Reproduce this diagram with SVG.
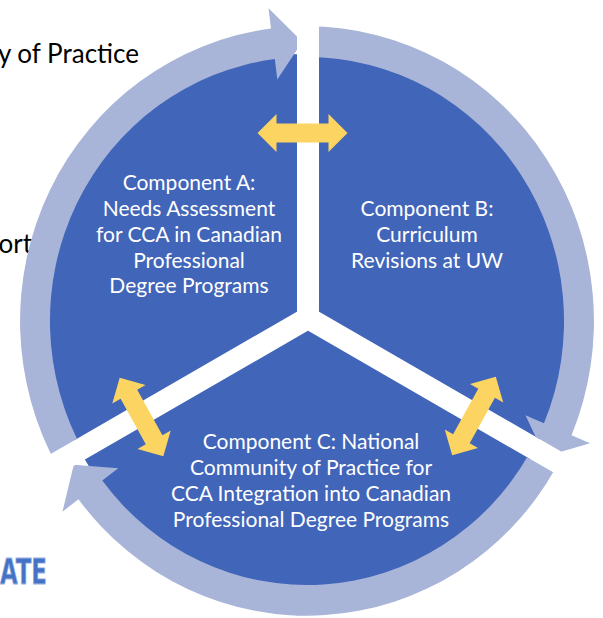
<svg xmlns="http://www.w3.org/2000/svg" width="603" height="618" viewBox="0 0 603 618">
<style>
.slice{fill:#4165B9}
.ring{fill:#A8B4D8}
.link{fill:#FBD462}
.strip{stroke:#fff;stroke-width:22;fill:none}
.lbl{font-family:Lato,"Open Sans","DejaVu Sans",sans-serif;font-size:21px;fill:#fff;text-anchor:middle}
.side{font-family:Lato,"Open Sans","DejaVu Sans",sans-serif;font-size:26px;fill:#000;text-anchor:end}
.logo{font-family:"DejaVu Sans Condensed","DejaVu Sans",sans-serif;font-weight:bold;font-size:35px;fill:#4472C4;stroke:#9DB2E4;stroke-width:0.8}
</style>
<defs>
<path id="ringArrow" d="M -248.5 143.5 A 287 287 0 0 1 -36.0 -284.7 L -38.5 -304.6 L -4.7 -272.0 L -29.7 -235.1 L -32.2 -255.0 A 257 257 0 0 0 -222.6 128.5 Z"/>
<path id="dbl" d="M-45,0 L-26,-19 L-26,-9.5 L26,-9.5 L26,-19 L45,0 L26,19 L26,9.5 L-26,9.5 L-26,19 Z"/>
<mask id="gapMask" maskUnits="userSpaceOnUse" x="0" y="0" width="603" height="618">
<rect width="603" height="618" fill="#fff"/>
<path d="M308 318 V-20 M308 318 L-40 519 M308 318 L656 519" stroke="#000" stroke-width="22" fill="none"/>
<circle cx="308" cy="318" r="11" fill="#000"/>
</mask>
</defs>

<text class="side" x="139" y="63">y of Practice</text>
<text class="side" x="32" y="253">ort</text>
<text class="logo" x="0" y="584" textLength="47" lengthAdjust="spacingAndGlyphs">ATE</text>

<g id="nodeA">
<path class="slice" transform="translate(307 321) scale(1 1.027)" d="M0 0 L-225.2 130 A260 260 0 0 1 0 -260 Z"/>
<text class="lbl" x="189" y="190">Component A:</text>
<text class="lbl" x="189" y="216">Needs Assessment</text>
<text class="lbl" x="189" y="242">for CCA in Canadian</text>
<text class="lbl" x="189" y="268">Professional</text>
<text class="lbl" x="189" y="293">Degree Programs</text>
</g>
<g id="nodeB">
<path class="slice" transform="translate(307 321) scale(1 1.027)" d="M0 0 L0 -260 A260 260 0 0 1 225.2 130 Z"/>
<text class="lbl" x="427" y="216">Component B:</text>
<text class="lbl" x="427" y="242">Curriculum</text>
<text class="lbl" x="427" y="268">Revisions at UW</text>
</g>
<g id="nodeC">
<path class="slice" transform="translate(307 321) scale(1 1.027)" d="M0 0 L225.2 130 A260 260 0 0 1 -225.2 130 Z"/>
<text class="lbl" x="311" y="449">Component C: National</text>
<text class="lbl" x="311" y="475">Community of Practice for</text>
<text class="lbl" x="311" y="501">CCA Integration into Canadian</text>
<text class="lbl" x="311" y="527">Professional Degree Programs</text>
</g>

<g id="dividers">
<path class="strip" d="M308 318 V-20 M308 318 L-40 519 M308 318 L656 519"/>
<circle cx="308" cy="318" r="11" fill="#fff"/>
</g>

<g id="connectors">
<g mask="url(#gapMask)">
<g transform="translate(307 321) scale(1 1.027)">
<use href="#ringArrow" class="ring"/>
<use href="#ringArrow" class="ring" transform="rotate(120)"/>
<use href="#ringArrow" class="ring" transform="rotate(240)"/>
</g>
</g>
<use href="#dbl" class="link" transform="translate(302.5 133)"/>
<use href="#dbl" class="link" transform="translate(141.5 417) rotate(61)"/>
<use href="#dbl" class="link" transform="translate(474 416) rotate(-61)"/>
</g>
</svg>
